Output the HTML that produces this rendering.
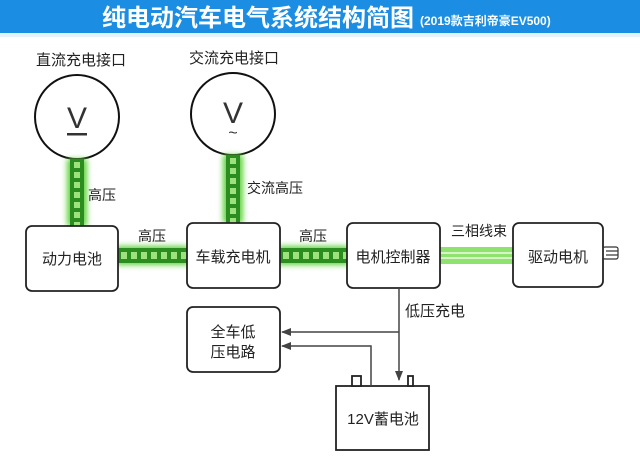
<!DOCTYPE html>
<html><head><meta charset="utf-8"><style>
html,body{margin:0;padding:0;background:#fff}
svg{display:block}
text{font-family:"Liberation Sans","Noto Sans CJK SC",sans-serif;fill:#222}
</style></head><body>
<svg width="640" height="463" viewBox="0 0 640 463" xmlns="http://www.w3.org/2000/svg">
<defs>
<filter id="glow" x="-50%" y="-50%" width="200%" height="200%"><feGaussianBlur stdDeviation="3"/></filter>
<pattern id="dh1" x="118" y="248" width="10" height="15" patternUnits="userSpaceOnUse"><rect x="3" y="4" width="6" height="7" fill="#9de27c"/></pattern>
<pattern id="dh2" x="280" y="248" width="10" height="15" patternUnits="userSpaceOnUse"><rect x="3" y="4" width="6" height="7" fill="#9de27c"/></pattern>
<pattern id="dv1" x="70" y="159" width="14" height="10" patternUnits="userSpaceOnUse"><rect x="4" y="3" width="6" height="6" fill="#9de27c"/></pattern>
<pattern id="dv2" x="226" y="155" width="14" height="10" patternUnits="userSpaceOnUse"><rect x="4" y="3" width="6" height="6" fill="#9de27c"/></pattern>
<marker id="ar" markerWidth="10" markerHeight="8" refX="9" refY="4" orient="auto" markerUnits="userSpaceOnUse"><path d="M0,0 L10,4 L0,8 Z" fill="#444"/></marker>
</defs>
<rect x="0" y="0" width="640" height="33" fill="#1b8ee3"/>
<rect x="0" y="33" width="640" height="4" fill="#e6f2fb"/>
<text x="258" y="26" font-size="24" font-weight="bold" text-anchor="middle" style="fill:#fff">纯电动汽车电气系统结构简图</text>
<text x="420" y="25" font-size="12" font-weight="bold" style="fill:#fff">(2019款吉利帝豪EV500)</text>

<text x="81" y="65" font-size="15" text-anchor="middle">直流充电接口</text>
<text x="234" y="63" font-size="15" text-anchor="middle">交流充电接口</text>

<ellipse cx="77" cy="117" rx="42" ry="42" fill="#fff" stroke="#111" stroke-width="2"/>
<text x="77" y="128" font-size="30" text-anchor="middle" style="fill:#333">V</text>
<rect x="67" y="133" width="20" height="2.5" fill="#333"/>
<ellipse cx="233" cy="114" rx="42" ry="41" fill="#fff" stroke="#111" stroke-width="2"/>
<text x="233" y="123" font-size="30" text-anchor="middle" style="fill:#333">V</text>
<text x="233" y="138" font-size="16" text-anchor="middle" style="fill:#333">~</text>

<g>
<rect x="67" y="159" width="20" height="67" fill="#5fd33a" filter="url(#glow)"/>
<rect x="70" y="159" width="14" height="67" fill="#2b8c1f"/>
<rect x="70" y="159" width="14" height="67" fill="url(#dv1)"/>
<rect x="223" y="155" width="20" height="68" fill="#5fd33a" filter="url(#glow)"/>
<rect x="226" y="155" width="14" height="68" fill="#2b8c1f"/>
<rect x="226" y="155" width="14" height="68" fill="url(#dv2)"/>
<rect x="116" y="246" width="73" height="19" fill="#5fd33a" filter="url(#glow)"/>
<rect x="118" y="248" width="69" height="15" fill="#2b8c1f"/>
<rect x="118" y="248" width="69" height="15" fill="url(#dh1)"/>
<rect x="278" y="246" width="71" height="19" fill="#5fd33a" filter="url(#glow)"/>
<rect x="280" y="248" width="67" height="15" fill="#2b8c1f"/>
<rect x="280" y="248" width="67" height="15" fill="url(#dh2)"/>
<rect x="440" y="247" width="73" height="17" fill="#8fe26e"/>
<line x1="440" y1="253" x2="513" y2="253" stroke="#fff" stroke-width="1.2"/>
<line x1="440" y1="258" x2="513" y2="258" stroke="#fff" stroke-width="1.2"/>
</g>

<text x="88" y="200" font-size="14">高压</text>
<text x="247" y="193" font-size="14">交流高压</text>
<text x="152" y="241" font-size="14" text-anchor="middle">高压</text>
<text x="313" y="241" font-size="14" text-anchor="middle">高压</text>
<text x="479" y="236" font-size="14" text-anchor="middle">三相线束</text>

<g fill="#fff" stroke="#222" stroke-width="1.8">
<rect x="26" y="226" width="92" height="65" rx="6"/>
<rect x="187" y="223" width="93" height="65" rx="6"/>
<rect x="347" y="223" width="93" height="65" rx="6"/>
<rect x="513" y="223" width="90" height="64" rx="6"/>
<rect x="187" y="307" width="93" height="65" rx="6"/>
<rect x="336" y="386" width="93" height="64"/>
<rect x="352" y="376" width="9" height="10"/>
<rect x="408" y="376" width="5" height="10"/>
</g>
<g stroke="#333" stroke-width="1.2" fill="none">
<rect x="603" y="247" width="15" height="12" rx="2"/>
<line x1="606" y1="251" x2="618" y2="251"/>
<line x1="606" y1="255" x2="618" y2="255"/>
</g>
<text x="72" y="264" font-size="15" text-anchor="middle">动力电池</text>
<text x="233" y="262" font-size="15" text-anchor="middle">车载充电机</text>
<text x="393" y="262" font-size="15" text-anchor="middle">电机控制器</text>
<text x="558" y="262" font-size="15" text-anchor="middle">驱动电机</text>
<text x="233" y="337" font-size="15" text-anchor="middle">全车低</text>
<text x="233" y="357" font-size="15" text-anchor="middle">压电路</text>
<text x="383" y="424" font-size="15" text-anchor="middle">12V蓄电池</text>
<text x="405" y="316" font-size="15">低压充电</text>

<g stroke="#444" stroke-width="1.5" fill="none">
<line x1="399" y1="288" x2="399" y2="380" marker-end="url(#ar)"/>
<line x1="399" y1="332" x2="282" y2="332" marker-end="url(#ar)"/>
<polyline points="371,386 371,346 282,346" marker-end="url(#ar)"/>
</g>
</svg>
</body></html>
